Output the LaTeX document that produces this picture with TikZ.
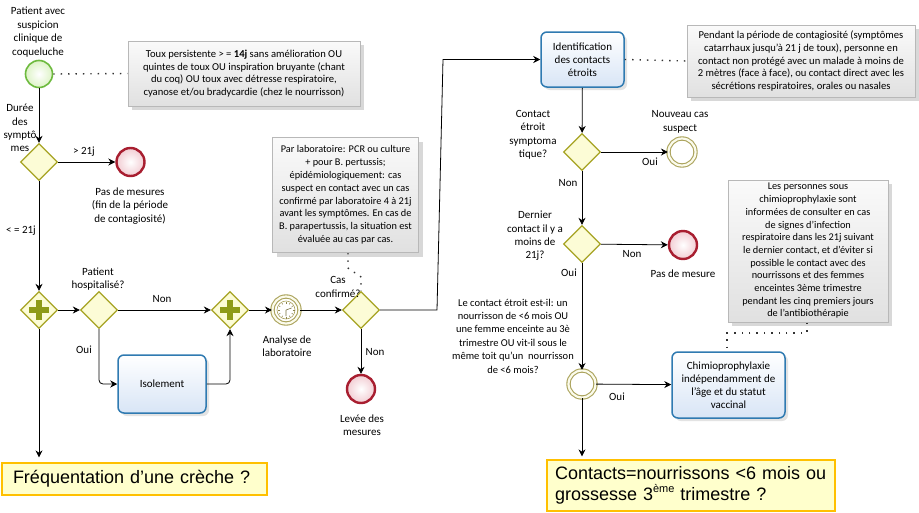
\documentclass[tikz,border=0pt]{standalone}
\usepackage{fontspec}
\setmainfont{Carlito}
\newfontfamily\qfont{Liberation Sans}
\usetikzlibrary{arrows.meta,shapes.geometric,shadows,calc}

\definecolor{gwline}{HTML}{A6A322}
\definecolor{gwfill}{HTML}{FCFCD6}
\definecolor{plusc}{HTML}{8E9B18}
\definecolor{endline}{HTML}{A81E30}
\definecolor{endfill}{HTML}{F2CDD3}
\definecolor{startline}{HTML}{6DBA3E}
\definecolor{startfill}{HTML}{DDF3C6}
\definecolor{midline}{HTML}{ABA35C}
\definecolor{midfill}{HTML}{FBFBEC}
\definecolor{taskline}{HTML}{2F7AB1}
\definecolor{taskfill}{HTML}{D8E5F6}
\definecolor{annline}{HTML}{B8B8B8}
\definecolor{qfill}{HTML}{FFFFCC}
\definecolor{qline}{HTML}{FFC000}

\begin{document}
\begin{tikzpicture}[x=1pt,y=-1pt,
  every node/.style={inner sep=0pt},
  lbl/.style={align=center,font=\fontsize{11}{13.4}\selectfont},
  flow/.style={-{Stealth[length=7pt,width=7pt]},line width=0.8pt,black},
  link/.style={line width=1.4pt,dash pattern=on 1.4pt off 6pt,black!80},
  gate/.style={diamond,draw=gwline,fill=gwfill,line width=1.3pt,
    minimum width=37pt,minimum height=37pt,aspect=1},
  pargate/.style={gate,path picture={
    \fill[plusc] ([xshift=-10pt,yshift=-2.6pt]path picture bounding box.center)
      rectangle ([xshift=10pt,yshift=2.6pt]path picture bounding box.center);
    \fill[plusc] ([xshift=-2.6pt,yshift=-10pt]path picture bounding box.center)
      rectangle ([xshift=2.6pt,yshift=10pt]path picture bounding box.center);}},
  startev/.style={circle,draw=startline,line width=1.6pt,minimum size=27pt,
    inner color=white,outer color=startfill},
  endev/.style={circle,draw=endline,line width=2.4pt,minimum size=28pt,
    inner color=white,outer color=endfill},
  midev/.style={circle,draw=midline,line width=1.1pt,double=midfill,
    double distance=2.2pt,fill=white,minimum size=27pt},
  task/.style={rectangle,rounded corners=6pt,draw=taskline,line width=1.5pt,
    top color=white,bottom color=taskfill,align=center,
    font=\fontsize{11}{13}\selectfont,
    drop shadow={opacity=0.22,shadow xshift=3pt,shadow yshift=-3pt}},
  note/.style={rectangle,draw=annline,line width=0.8pt,top color=gray!4,
    bottom color=gray!24,align=center,font=\fontsize{10.6}{12.7}\selectfont,
    drop shadow={opacity=0.3,shadow xshift=4pt,shadow yshift=-4pt}},
  question/.style={rectangle,draw=qline,fill=qfill,line width=1.2pt,
    align=left,font=\qfont\fontsize{18}{21.5}\selectfont}
]
\useasboundingbox[fill=white] (0,0) rectangle (919,512);

% ---------- annotations ----------
\node[note,minimum width=232pt,minimum height=65pt] (n1) at (244,73.5)
  {Toux persistente > = \textbf{14j} sans amélioration OU\\
   quintes de toux OU inspiration bruyante (chant\\
   du coq) OU toux avec détresse respiratoire,\\
   cyanose et/ou bradycardie (chez le nourrisson)};
\node[note,minimum width=146pt,minimum height=115pt,
  font=\fontsize{10.3}{12.8}\selectfont] (n2) at (345.5,195)
  {Par laboratoire: PCR ou culture\\
   + pour B. pertussis;\\
   épidémiologiquement: cas\\
   suspect en contact avec un cas\\
   confirmé par laboratoire 4 à 21j\\
   avant les symptômes. En cas de\\
   B. parapertussis, la situation est\\
   évaluée au cas par cas.};
\node[note,minimum width=228pt,minimum height=72pt] (n3) at (801,61)
  {Pendant la période de contagiosité (symptômes\\
   catarrhaux jusqu'à 21 j de toux), personne en\\
   contact non protégé avec un malade à moins de\\
   2 mètres (face à face), ou contact direct avec les\\
   sécrétions respiratoires, orales ou nasales};
\node[note,minimum width=160pt,minimum height=142pt,
  font=\fontsize{10.3}{12.7}\selectfont] (n4) at (808,251)
  {Les personnes sous\\
   chimioprophylaxie sont\\
   informées de consulter en cas\\
   de signes d’infection\\
   respiratoire dans les 21j suivant\\
   le dernier contact, et d’éviter si\\
   possible le contact avec des\\
   nourrissons et des femmes\\
   enceintes 3ème trimestre\\
   pendant les cinq premiers jours\\
   de l’antibiothérapie};

% ---------- flow objects ----------
\node[startev] (start) at (39,74) {};
\node[gate] (d1) at (39,162) {};
\node[endev] (e1) at (130.5,162) {};
\node[pargate] (p1) at (39,310) {};
\node[gate] (hosp) at (99,310) {};
\node[task,minimum width=88pt,minimum height=58pt] (iso) at (162,384) {Isolement};
\node[pargate] (p2) at (230,310) {};
\node[midev] (timer) at (286,310) {};
\node[gate] (cas) at (361,310) {};
\node[endev] (e2) at (361,389) {};
\node[task,minimum width=83pt,minimum height=55pt] (ident) at (582.5,59.5)
  {Identification\\des contacts\\étroits};
\node[gate] (d3) at (582,152) {};
\node[midev] (newc) at (682,152) {};
\node[gate] (d4) at (582,244) {};
\node[endev] (e3) at (683,245) {};
\node[midev] (m2) at (582,384) {};
\node[task,minimum width=113pt,minimum height=66pt] (chimio) at (728.5,385)
  {Chimioprophylaxie\\indépendamment de\\l’âge et du statut\\vaccinal};
\node[question,minimum width=265pt,minimum height=32pt,text width=243pt]
  (q1) at (134.5,479) {Fréquentation d’une crèche ?};
\node[question,minimum width=288pt,minimum height=51pt,text width=272pt]
  (q2) at (691,485.5) {Contacts=nourrissons <6 mois ou\\grossesse
  3\raisebox{0.9ex}{\fontsize{11}{11}\selectfont ème} trimestre ?};

% clock face of the timer event
\begin{scope}[shift={(timer.center)}]
  \draw[midline,line width=0.6pt,fill=white] (0,0) circle (9pt);
  \foreach \a in {0,30,...,330}
    \draw[midline!80!black,line width=0.5pt] (\a:6.5pt) -- (\a:8.5pt);
  \draw[midline!70!black,line width=0.6pt] (0,0) -- (0,-6pt) (0,0) -- (20:6pt);
\end{scope}

% ---------- text labels ----------
\node[lbl] (tstart) at (38,32) {Patient avec\\suspicion\\clinique de\\coqueluche};
\node[lbl] (tdur) at (20,128) {Durée\\des\\symptô\\mes};
\node[lbl] (tgt) at (84,152) {> 21j};
\node[lbl] (te1) at (130,206) {Pas de mesures\\(fin de la période\\de contagiosité)};
\node[lbl] (tle) at (21,231) {< = 21j};
\node[lbl] (thosp) at (98,279) {Patient\\hospitalisé?};
\node[lbl] (tnon1) at (162,299) {Non};
\node[lbl] (toui1) at (84,350) {Oui};
\node[lbl] (ttimer) at (287,346) {Analyse de\\laboratoire};
\node[lbl] (tcas) at (338,287) {Cas\\confirmé?};
\node[lbl] (tnon2) at (375,352) {Non};
\node[lbl] (te2) at (362,425) {Levée des\\mesures};
\node[lbl] (td3) at (533,135) {Contact\\étroit\\symptoma\\tique?};
\node[lbl] (tnew) at (680,122) {Nouveau cas\\suspect};
\node[lbl] (toui2) at (650,162) {Oui};
\node[lbl] (tnon3) at (568,183) {Non};
\node[lbl] (td4) at (535,236) {Dernier\\contact il y a\\moins de\\21j?};
\node[lbl] (tnon4) at (632,254) {Non};
\node[lbl] (te3) at (683,274) {Pas de mesure};
\node[lbl] (toui3) at (569,273) {Oui};
\node[lbl,font=\fontsize{10.5}{13.4}\selectfont] (tm2) at (513,336)
  {Le contact étroit est-il: un\\nourrisson de <6 mois OU\\une femme enceinte au 3è\\
   trimestre OU vit-il sous le\\même toit qu’un~ nourrisson\\de <6 mois?};
\node[lbl] (toui4) at (617,397) {Oui};

% ---------- sequence flows ----------
\draw[flow] (start) -- (d1);
\draw[flow] (d1) -- (e1);
\draw[flow] (d1) -- (p1);
\draw[flow] (p1) -- (hosp);
\draw[flow] (hosp) -- (p2);
\draw[flow,rounded corners=4pt] (hosp.south) |- (iso.west);
\draw[flow,rounded corners=4pt] (iso.east) -| (p2.south);
\draw[flow,shorten >=5pt] (p1) -- (p1 |- q1.north);
\draw[flow] (p2) -- (timer);
\draw[flow] (timer) -- (cas);
\draw[flow] (cas) -- (e2);
\coordinate (bendlow) at (437,310);
\coordinate (bendhigh) at (443,59.5);
\draw[flow] (cas.east) -- (bendlow) -- (bendhigh) -- (ident.west);
\draw[flow] (ident) -- (d3);
\draw[flow] (d3) -- (newc);
\draw[flow] (d3) -- (d4);
\draw[flow] (d4) -- (e3);
\draw[flow] (d4) -- (m2);
\draw[flow] (m2) -- (chimio);
\draw[flow,shorten >=3pt] (m2) -- (m2 |- q2.north);

% ---------- associations ----------
\draw[link] (start.east) -- (n1.west);
\draw[link] (ident.east) -- (n3.west);
\coordinate (a2) at (348,253);
\draw[link] (a2) -- (348,268) -- (361,277) -- (cas.north);
\coordinate (a4) at (807,323);
\coordinate (c4) at (727,333);
\draw[link] (a4) -- (807,333) -- (c4) -- (c4 |- chimio.north);
\end{tikzpicture}
\end{document}
